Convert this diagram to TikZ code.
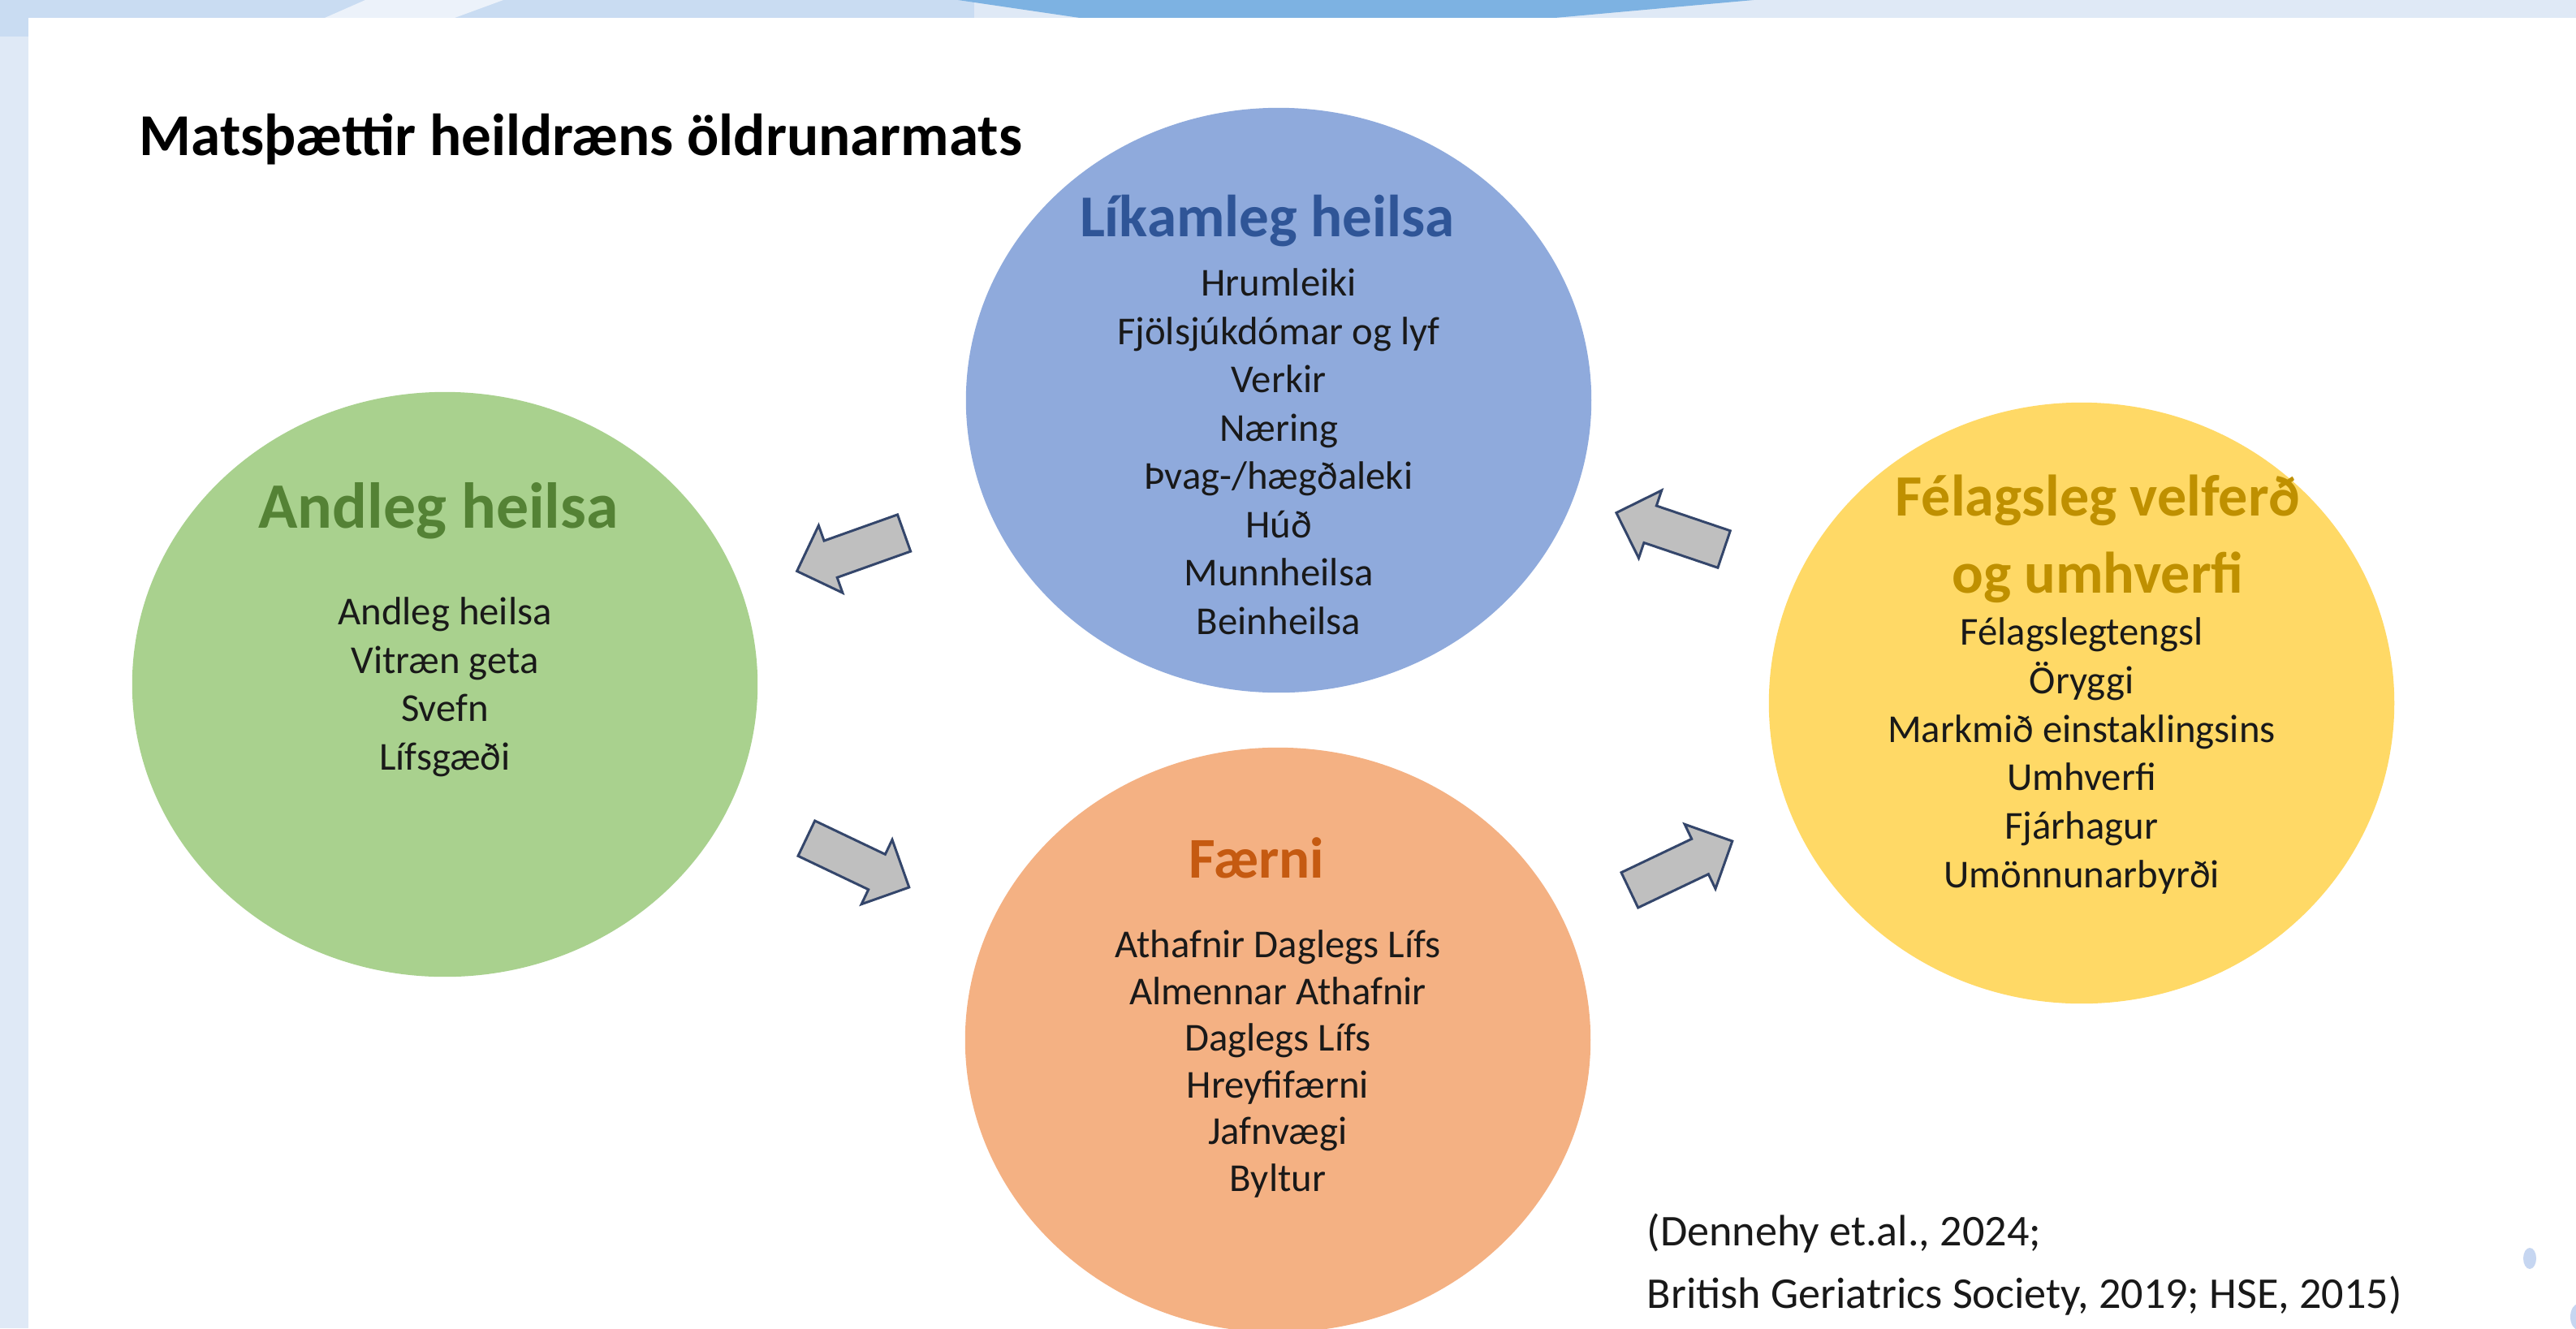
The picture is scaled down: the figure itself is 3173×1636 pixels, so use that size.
\documentclass[tikz,border=0pt]{standalone}
\usepackage{fontspec}
\setmainfont{Carlito}
\usetikzlibrary{shapes.geometric,shapes.arrows}
\definecolor{bgA}{HTML}{DFE9F6}
\definecolor{bgB}{HTML}{C9DCF2}
\definecolor{bgDark}{HTML}{7DB2E2}
\definecolor{fBlue}{HTML}{8FAADC}
\definecolor{tBlue}{HTML}{2F5597}
\definecolor{fGreen}{HTML}{A9D18E}
\definecolor{tGreen}{HTML}{548235}
\definecolor{fOrange}{HTML}{F4B183}
\definecolor{tOrange}{HTML}{C55A11}
\definecolor{fYellow}{HTML}{FFD966}
\definecolor{tYellow}{HTML}{BF9000}
\definecolor{arrFill}{HTML}{BFBFBF}
\definecolor{arrLine}{HTML}{34466B}
\definecolor{dotC}{HTML}{C6D6F1}
\tikzset{
  blob/.style={ellipse, inner sep=0pt, minimum width=7.70cm, minimum height=7.20cm},
  ttl/.style={anchor=base, inner sep=0pt, font=\fontsize{20.8pt}{27pt}\selectfont\bfseries, align=center},
  lst/.style={anchor=base, inner sep=0pt, font=\fontsize{13.86pt}{16.9pt}\selectfont, align=center, text=black!90},
  flow/.style={single arrow, draw=arrLine, fill=arrFill, line width=0.03cm, minimum height=1.40cm, minimum width=0.85cm, single arrow head extend=0.20cm, inner xsep=0pt, inner ysep=0.225cm, anchor=tail},
}
\begin{document}
\begin{tikzpicture}[x=0.01cm,y=-0.01cm]
\useasboundingbox (0,0) rectangle (3173,1636);
% background
\fill[bgA] (0,0) rectangle (3173,1636);
\fill[bgB] (0,0) rectangle (1200,22);
\fill[bgB] (0,0) rectangle (35,45);
\fill[bgA!60!white] (450,0) -- (620,0) -- (560,22) -- (400,22) -- cycle;
\fill[bgDark] (1180,0) -- (2160,0) -- (1915,22) -- (1330,22) -- cycle;
\fill[white] (35,22) rectangle (3173,1636);
\fill[dotC] (3116,1550) ellipse (8 and 13);
\fill[dotC] (3176,1622) ellipse (10 and 16);

% title
\node[ttl, anchor=base west] (title) at (171,191) {Matsþættir heildræns öldrunarmats};

% circles
\node[blob, fill=fBlue] (blue) at (1575,493) {};
\node[blob, fill=fGreen] (green) at (548,843) {};
\node[blob, fill=fYellow, minimum height=7.40cm] (yellow) at (2564,866) {};
\node[blob, fill=fOrange] (orange) at (1574,1281) {};

% blue (base = last line)
\node[ttl, text=tBlue] (bT) at (1561,291) {Líkamleg heilsa};
\node[lst] (bL) at (1575,781) {Hrumleiki\\Fjölsjúkdómar og lyf\\Verkir\\Næring\\Þvag-/hægðaleki\\Húð\\Munnheilsa\\Beinheilsa};

% green
\node[ttl, text=tGreen, font=\fontsize{22.7pt}{27pt}\selectfont\bfseries] (gT) at (540,650) {Andleg heilsa};
\node[lst] (gL) at (548,948) {Andleg heilsa\\Vitræn geta\\Svefn\\Lífsgæði};

% orange
\node[ttl, text=tOrange, font=\fontsize{20.2pt}{27pt}\selectfont\bfseries] (oT) at (1548,1081) {Færni};
\node[lst, font=\fontsize{13.86pt}{16.33pt}\selectfont] (oL) at (1574,1467) {Athafnir Daglegs Lífs\\Almennar Athafnir\\Daglegs Lífs\\Hreyfifærni\\Jafnvægi\\Byltur};

% yellow
\node[ttl, text=tYellow, font=\fontsize{20.5pt}{27pt}\selectfont\bfseries] (yT) at (2584,730) {Félagsleg velferð\\og umhverfi};
\node[lst, font=\fontsize{13.86pt}{16.95pt}\selectfont] (yL) at (2564,1093) {Félagslegtengsl\\Öryggi\\Markmið einstaklingsins\\Umhverfi\\Fjárhagur\\Umönnunarbyrði};

% arrows
\node[flow, rotate=199.6] (a1) at (1115,656) {};
\node[flow, rotate=-25.5] (a2) at (992,1032) {};
\node[flow, rotate=161.3] (a3) at (2125,677) {};
\node[flow, rotate=25.5] (a4) at (2006,1097) {};

% citation
\node[anchor=base west, inner sep=0pt, align=left, font=\fontsize{15.4pt}{21.9pt}\selectfont, text=black!90] (cite) at (2028,1611) {(Dennehy et.al., 2024;\\British Geriatrics Society, 2019; HSE, 2015)};
\end{tikzpicture}
\end{document}
